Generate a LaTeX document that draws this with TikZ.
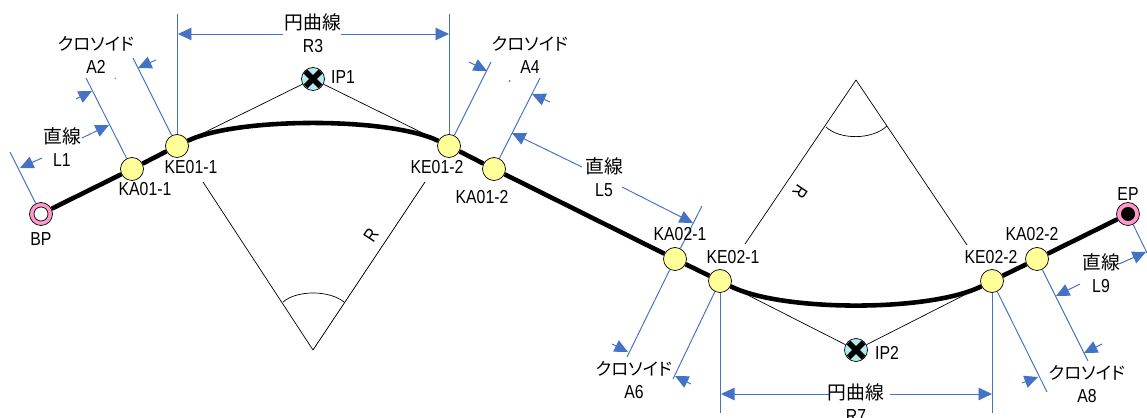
\documentclass[tikz,border=0pt]{standalone}
\usepackage{fontspec}
\setmainfont[FakeStretch=0.84]{Liberation Sans}
\newfontfamily\cjk[RawFeature=+palt]{Noto Sans CJK JP}
\newcommand{\kana}{\fontsize{9.9}{13.4}\selectfont クロソイド}
\usetikzlibrary{arrows.meta}
\definecolor{dimblue}{HTML}{4472C4}
\definecolor{ballyellow}{HTML}{FFFF99}
\definecolor{ringpink}{HTML}{FF99CC}
\definecolor{ipcyan}{HTML}{B4ECEC}
\begin{document}
\begin{tikzpicture}[x=0.02cm,y=-0.02cm,line join=round,>={Triangle[length=0.27cm,width=0.25cm]}]
\tikzset{every node/.style={font=\fontsize{10.7}{13.4}\selectfont,inner sep=0pt,align=center},
ball/.style={circle,draw=black,line width=0.4pt,fill=ballyellow,minimum size=0.46cm},
ring/.style={circle,draw=black,line width=0.4pt,fill=ringpink,minimum size=0.46cm},
ipmark/.style={circle,draw=black,line width=0.4pt,fill=ipcyan,minimum size=0.46cm},
road/.style={line width=2.6pt},
thinline/.style={line width=0.4pt},
dimline/.style={dimblue,line width=0.55pt},
dimarrow/.style={dimline,->}}
\useasboundingbox (0,0) rectangle (1147,418);
% stations
\foreach \n/\x/\y in {ka11/132/169,ke11/177/146,ke12/449/146,ka12/494/169,ka21/675/259,ke21/720/281,ke22/992/281,ka22/1037/259}
\node[ball] (\n) at (\x,\y) {};
\node[ring] (bp) at (41,214) {};
\fill[white] (bp) circle (7);
\draw[thinline] (bp) circle (7);
\node[ring] (ep) at (1128,214) {};
\fill[black] (ep) circle (7);
\node[ipmark] (ip1) at (313,79) {};
\node[ipmark] (ip2) at (856,350) {};
\foreach \n in {ip1,ip2}{
\draw[line width=3.2pt] ([shift={(-7.5,-7.5)}]\n.center)--([shift={(7.5,7.5)}]\n.center);
\draw[line width=3.2pt] ([shift={(-7.5,7.5)}]\n.center)--([shift={(7.5,-7.5)}]\n.center);
}
% free ends
\foreach \n/\x/\y in {bpe/10/152,ka11e/86/78,ke11a/133/58,ke11b/177/14,ke12b/449/14,ke12a/491/62,ka12e/540/78,
ka21a/702/206,ka21b/627/357,ke21a/673/379,ke21b/720/413,ke22b/992/413,ke22a/1047/392,ka22e/1088/361,epe/1147/253,
oa/313/350,oa1/203/182,oa2/425/182,ob/856/80,ob1/745/244,ob2/967/245}
\coordinate (\n) at (\x,\y);
% alignment
\draw[road] (bp)--(ka11)--(ke11) .. controls (237,117) and (389,117) .. (ke12)--(ka12)--(ka21)--(ke21) .. controls (782,312) and (930,312) .. (ke22)--(ka22)--(ep);
\draw[thinline] (ke11)--(ip1)--(ke12);
\draw[thinline] (ke21)--(ip2)--(ke22);
\draw[thinline] (oa1)--(oa)--(oa2);
\draw[thinline] (ob1)--(ob)--(ob2);
\draw[thinline] (283,302) .. controls (297,290) and (329,290) .. (344,302);
\draw[thinline] (826,127) .. controls (840,140) and (872,140) .. (887,126);
% extension lines
\foreach \a/\b in {bp/bpe,ka11/ka11e,ke11/ke11a,ke11/ke11b,ke12/ke12b,ke12/ke12a,ka12/ka12e,ka21/ka21a,ka21/ka21b,ke21/ke21a,ke21/ke21b,ke22/ke22b,ke22/ke22a,ka22/ka22e,ep/epe}
\draw[dimline] (\a)--(\b);
% dimension arrows
\foreach \xa/\ya/\xb/\yb in {42/158/20/168,82/138/109/125,76/99/92/91,156/60/138/68,283/34/178/34,341/34/449/34,
469/62/487/71,550/102/532/94,582/167/512/133,622/187/693/223,612/344/628/352,691/384/675/376,
830/394/721/394,890/394/992/394,1022/383/1038/377,1102/344/1084/353,1080/284/1056/296,1119/264/1146/252}
\draw[dimarrow] (\xa,\ya)--(\xb,\yb);
\draw[dimline] (115,78)--(115.6,79);
\draw[dimline] (510,80)--(509,82);
% labels
\foreach \n/\x/\y/\t in {tbp/41/239/BP,tep/1128/194/EP,tip1/343/77/IP1,tip2/887/353/IP2,
tka11/145/189/KA01-1,tke11/191/167/KE01-1,tke12/437/167/KE01-2,tka12/482/197/KA01-2,
tka21/680/234/KA02-1,tke21/733/257/KE02-1,tke22/991/257/KE02-2,tka22/1032/234/KA02-2}
\node (\n) at (\x,\y) {\t};
\foreach \n/\x/\y/\s/\t in {tl1/62/147/直線/L1,tr3/313/33/円曲線/R3,ta2/96/55/\kana/A2,ta4/530/55/\kana/A4,tl5/604/177/直線/L5,ta6/634/380/\kana/A6,tr7/856/403/円曲線/R7,ta8/1087/384/\kana/A8,tl9/1101/273/直線/L9}
\node (\n) at (\x,\y) {{\cjk\s}\\\t};
\node[rotate=57] (tra) at (371,235) {R};
\node[rotate=-124] (trb) at (800,192) {R};
\end{tikzpicture}
\end{document}
